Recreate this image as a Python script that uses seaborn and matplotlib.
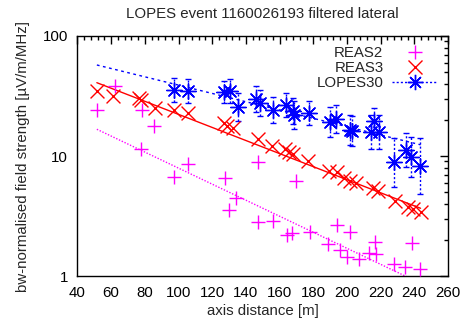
import matplotlib
matplotlib.use("Agg")
import numpy as np
import pandas as pd
import seaborn as sns
import matplotlib.pyplot as plt
from matplotlib.ticker import MultipleLocator, LogLocator, FixedLocator, NullFormatter, FixedFormatter
from matplotlib.lines import Line2D

# ---------------- data ----------------
reas2_x = [51.5, 62.0, 78.2, 77.6, 85.5, 97.4, 105.9, 127.8, 130.2, 134.0,
           147.4, 147.4, 156.0, 164.6, 167.2, 169.9, 177.8, 188.8, 194.3, 195.9,
           200.2, 202.1, 207.3, 213.2, 216.7, 217.5, 228.0, 234.3, 238.5, 243.4]
reas2_y = [24.2, 38.3, 24.2, 11.4, 17.9, 6.68, 8.54, 6.62, 3.55, 4.44,
           8.96, 2.84, 2.89, 2.20, 2.27, 6.19, 2.34, 1.86, 2.66, 1.65,
           1.44, 2.35, 1.40, 1.56, 1.93, 1.52, 1.25, 1.18, 1.89, 1.14]

reas3_x = [51.5, 61.2, 76.6, 77.8, 85.9, 97.4, 105.5, 126.7, 129.0, 132.2,
           147.4, 155.4, 163.3, 165.6, 168.2, 177.1, 189.4, 193.8, 198.3, 201.8,
           205.4, 215.5, 218.5, 228.6, 236.3, 239.2, 243.7]
reas3_y = [35.1, 31.6, 30.4, 29.3, 25.3, 24.0, 23.0, 18.7, 17.9, 17.0,
           13.8, 12.1, 11.4, 10.9, 10.3, 9.17, 7.43, 7.29, 6.62, 6.25,
           5.96, 5.41, 5.16, 4.22, 3.79, 3.62, 3.41]

lopes_x = [97.4, 105.9, 127.1, 130.6, 135.1, 146.1, 148.4, 156.1, 163.9, 168.2,
           168.6, 177.2, 190.0, 193.4, 201.6, 202.9, 214.1, 216.1, 219.2, 228.0,
           235.1, 237.9, 243.4]
lopes_y = [35.5, 35.0, 34.1, 34.8, 25.4, 29.9, 27.9, 24.2, 26.6, 23.9,
           22.0, 22.8, 19.3, 20.2, 16.5, 16.2, 15.9, 19.7, 15.8, 8.83,
           11.2, 9.9, 8.3]
lopes_lo = [28.2, 27.8, 27.6, 27.6, 19.4, 23.3, 21.7, 18.8, 21.1, 18.6,
            16.8, 18.1, 14.5, 15.4, 12.4, 12.1, 11.5, 15.3, 11.4, 5.57,
            8.1, 6.7, 4.8]
lopes_hi = [44.7, 44.1, 42.1, 43.8, 33.2, 38.4, 35.8, 31.1, 33.5, 30.7,
            28.8, 28.7, 25.7, 26.4, 22.0, 21.6, 22.0, 25.3, 21.9, 14.0,
            15.5, 14.5, 14.2]

fit_x = [51.5, 243.7]
reas2_fit = [16.7, 0.87]
reas3_fit = [40.8, 3.67]
lopes_fit = [57.3, 12.4]

x_ticks = [40, 60, 80, 100, 120, 140, 160, 180, 200, 220, 240, 260]
y_ticks = [1, 10, 100]
y_tick_labels = ["1", "10", "100"]

title = "LOPES event 1160026193 filtered lateral"
xlabel = "axis distance [m]"
ylabel = "bw-normalised field strength [\u00b5V/m/MHz]"

# ---------------- style ----------------
sns.set_theme(style="white")
plt.rcParams['font.family'] = ['Liberation Sans', 'DejaVu Sans']
FS = 10.8
plt.rcParams['font.size'] = FS

C2 = '#ff00ff'
C3 = '#ff0000'
CL = '#0000ff'
star = (8, 2, 0)

fig = plt.figure(figsize=(4.64, 3.21), dpi=100)
ax = fig.add_axes([0.167, 0.140, 0.7985, 0.748])

df2 = pd.DataFrame({'x': reas2_x, 'y': reas2_y})
df3 = pd.DataFrame({'x': reas3_x, 'y': reas3_y})
dfl = pd.DataFrame({'x': lopes_x, 'y': lopes_y})

# fit lines
sns.lineplot(x=fit_x, y=reas2_fit, color=C2, lw=1, ax=ax, dashes=False,
             linestyle=(0, (1, 1.2)), zorder=2)
sns.lineplot(x=fit_x, y=reas3_fit, color=C3, lw=1, ax=ax, zorder=2)
sns.lineplot(x=fit_x, y=lopes_fit, color=CL, lw=1, ax=ax,
             linestyle=(0, (2, 2.5)), zorder=2)

# LOPES error bars
eb = ax.errorbar(dfl['x'], dfl['y'],
                 yerr=[np.array(lopes_y) - np.array(lopes_lo), np.array(lopes_hi) - np.array(lopes_y)],
                 fmt='none', ecolor=CL, elinewidth=1, capsize=2.5, capthick=1, zorder=3)
for coll in eb[2]:
    coll.set_linestyle((0, (1.5, 1.5)))

# markers
sns.scatterplot(data=df2, x='x', y='y', marker='+', s=100, color=C2, linewidth=1, ax=ax, zorder=4)
sns.scatterplot(data=df3, x='x', y='y', marker='x', s=100, color=C3, linewidth=1, ax=ax, zorder=4)
sns.scatterplot(data=dfl, x='x', y='y', marker=star, s=125, color=CL, linewidth=1, ax=ax, zorder=5)

ax.set_yscale('log')
ax.set_xlim(40, 260)
ax.set_ylim(1, 100)

ax.xaxis.set_major_locator(FixedLocator(x_ticks))
ax.xaxis.set_minor_locator(MultipleLocator(4))
ax.yaxis.set_major_locator(FixedLocator(y_ticks))
ax.yaxis.set_major_formatter(FixedFormatter(y_tick_labels))
ax.yaxis.set_minor_locator(LogLocator(base=10, subs=np.arange(2, 10)))
ax.yaxis.set_minor_formatter(NullFormatter())

ax.tick_params(which='both', direction='in', top=True, right=True, colors='black',
               labelsize=FS, width=1)
ax.tick_params(which='major', length=6)
ax.tick_params(which='minor', length=3)
ax.tick_params(axis='x', pad=7)
ax.tick_params(axis='y', pad=7)
for sp in ax.spines.values():
    sp.set_color('black')
    sp.set_linewidth(1)

ax.set_title(title, fontsize=FS, pad=13)
ax.set_xlabel(xlabel, fontsize=FS, labelpad=3)
ax.set_ylabel(ylabel, fontsize=FS, labelpad=9)

h2 = Line2D([], [], color=C2, marker='+', ls='', ms=10, mew=1)
h3 = Line2D([], [], color=C3, marker='x', ls='', ms=10, mew=1)
hl = Line2D([], [], color=CL, marker=star, ls=(0, (1.5, 1.5)), lw=1, ms=11, mew=1)
ax.legend([h2, h3, hl], ['REAS2', 'REAS3', 'LOPES30'], loc='upper right',
          markerfirst=False, frameon=False, handlelength=3.0, fontsize=FS,
          labelspacing=0.05, handletextpad=0.6, borderaxespad=0.3)

fig.savefig('out.png', dpi=100)
